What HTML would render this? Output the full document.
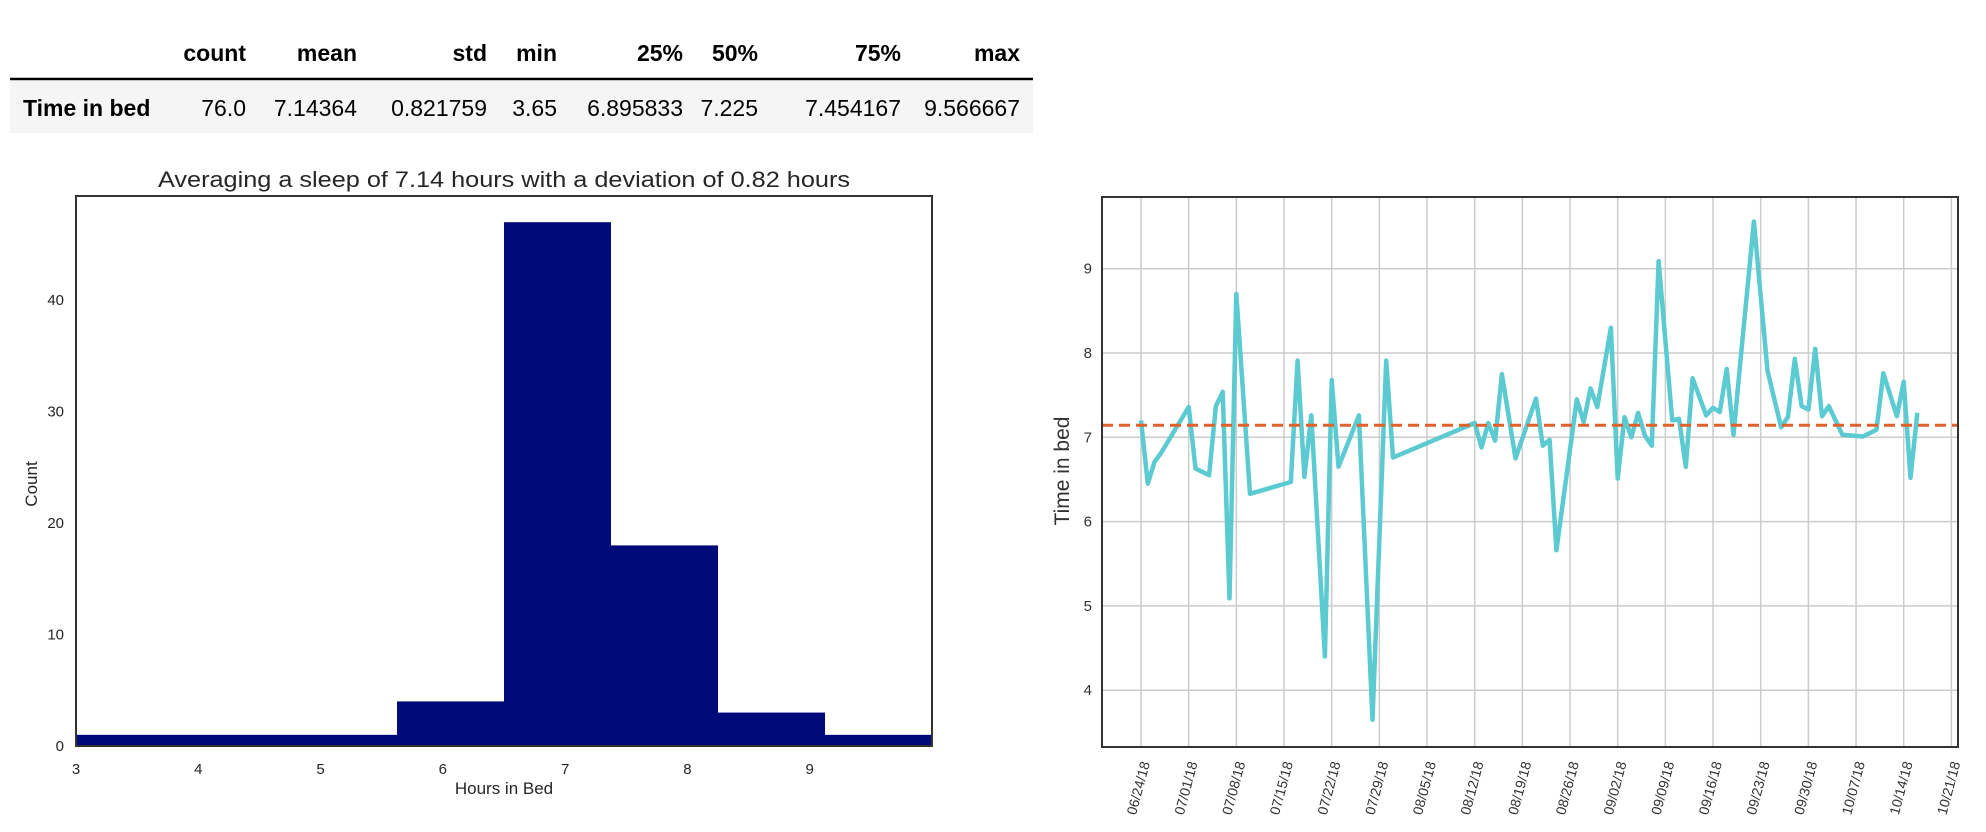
<!DOCTYPE html>
<html><head><meta charset="utf-8">
<style>
html,body{margin:0;padding:0;background:#fff;}
svg{display:block;font-family:"Liberation Sans",Arial,sans-serif;}
</style></head>
<body>
<svg id="root" width="1986" height="832" viewBox="0 0 1986 832">
  <g>
    <rect x="10" y="81" width="1023" height="52" fill="#f5f5f5"/>
    <line x1="10" y1="79" x2="1033" y2="79" stroke="#000" stroke-width="2.5"/>
    <g font-size="23" font-weight="bold" fill="#000" text-anchor="end">
      <text x="246" y="61">count</text>
      <text x="357" y="61">mean</text>
      <text x="487" y="61">std</text>
      <text x="557" y="61">min</text>
      <text x="683" y="61">25%</text>
      <text x="758" y="61">50%</text>
      <text x="901" y="61">75%</text>
      <text x="1020" y="61">max</text>
    </g>
    <text x="23" y="116" font-size="23" font-weight="bold">Time in bed</text>
    <g font-size="23" fill="#000" text-anchor="end">
      <text x="246" y="116">76.0</text>
      <text x="357" y="116">7.14364</text>
      <text x="487" y="116">0.821759</text>
      <text x="557" y="116">3.65</text>
      <text x="683" y="116">6.895833</text>
      <text x="758" y="116">7.225</text>
      <text x="901" y="116">7.454167</text>
      <text x="1020" y="116">9.566667</text>
    </g>
  </g>
  <g id="hist">
    <text x="504" y="187" font-size="22" fill="#262626" text-anchor="middle" textLength="692" lengthAdjust="spacingAndGlyphs">Averaging a sleep of 7.14 hours with a deviation of 0.82 hours</text>
  </g>
  <g id="line"></g>
</svg>
<script>
const NS = "http://www.w3.org/2000/svg";
// Histogram data
const binEdges = [3, 3.875, 4.75, 5.625, 6.5, 7.375, 8.25, 9.125, 10];
const binCounts = [1, 1, 1, 4, 47, 18, 3, 1];
const histXTicks = [3, 4, 5, 6, 7, 8, 9];
const histYTicks = [0, 10, 20, 30, 40];
// Line chart data
const sleepDates = ["2018-06-24","2018-06-25","2018-06-26","2018-06-27","2018-07-01","2018-07-02","2018-07-04","2018-07-05","2018-07-06","2018-07-07","2018-07-08","2018-07-10","2018-07-16","2018-07-17","2018-07-18","2018-07-19","2018-07-21","2018-07-22","2018-07-23","2018-07-26","2018-07-28","2018-07-30","2018-07-31","2018-08-12","2018-08-13","2018-08-14","2018-08-15","2018-08-16","2018-08-18","2018-08-21","2018-08-22","2018-08-23","2018-08-24","2018-08-27","2018-08-28","2018-08-29","2018-08-30","2018-09-01","2018-09-02","2018-09-03","2018-09-04","2018-09-05","2018-09-06","2018-09-07","2018-09-08","2018-09-10","2018-09-11","2018-09-12","2018-09-13","2018-09-15","2018-09-16","2018-09-17","2018-09-18","2018-09-19","2018-09-20","2018-09-22","2018-09-24","2018-09-26","2018-09-27","2018-09-28","2018-09-29","2018-09-30","2018-10-01","2018-10-02","2018-10-03","2018-10-05","2018-10-08","2018-10-10","2018-10-11","2018-10-13","2018-10-14","2018-10-15","2018-10-16"];
const sleepHours = [7.20,6.45,6.71,6.82,7.36,6.63,6.55,7.37,7.54,5.09,8.70,6.33,6.47,7.91,6.53,7.26,4.40,7.68,6.65,7.26,3.65,7.91,6.76,7.17,6.88,7.17,6.96,7.75,6.75,7.46,6.90,6.97,5.66,7.45,7.18,7.58,7.36,8.30,6.51,7.24,7.00,7.29,7.02,6.90,9.09,7.20,7.22,6.65,7.70,7.26,7.35,7.30,7.81,7.03,7.89,9.56,7.79,7.12,7.24,7.93,7.37,7.33,8.05,7.25,7.37,7.03,7.01,7.09,7.76,7.25,7.66,6.52,7.29];
const meanHours = 7.14364;
const lineYTicks = [4, 5, 6, 7, 8, 9];
const dateTickLabels = ["06/24/18","07/01/18","07/08/18","07/15/18","07/22/18","07/29/18","08/05/18","08/12/18","08/19/18","08/26/18","09/02/18","09/09/18","09/16/18","09/23/18","09/30/18","10/07/18","10/14/18","10/21/18"];

function mk(tag, attrs, parent){
  const e = document.createElementNS(NS, tag);
  for (const k in attrs) e.setAttribute(k, attrs[k]);
  parent.appendChild(e);
  return e;
}

// ---- Histogram ----
const H = {l:76, r:932, t:196, b:746, x0:3, x1:10, y0:0, y1:49.35};
const hx = v => H.l + (v - H.x0) / (H.x1 - H.x0) * (H.r - H.l);
const hy = v => H.b - (v - H.y0) / (H.y1 - H.y0) * (H.b - H.t);
const hg = document.getElementById('hist');
binCounts.forEach((c, i) => {
  const r = mk('rect', {x: hx(binEdges[i]), y: hy(c), width: hx(binEdges[i+1]) - hx(binEdges[i]), height: hy(0) - hy(c), fill: '#000a78'}, hg);
  
  
});
const hframe = mk('rect', {x: H.l, y: H.t, width: H.r - H.l, height: H.b - H.t, fill: 'none', stroke: '#333', 'stroke-width': 2}, hg);


histXTicks.forEach(v => {
  const t = mk('text', {x: hx(v), y: 774, 'font-size': 15, fill: '#262626', 'text-anchor': 'middle'}, hg);
  t.textContent = v;
  
  
});
histYTicks.forEach(v => {
  const t = mk('text', {x: 64, y: hy(v) + 5, 'font-size': 15, fill: '#262626', 'text-anchor': 'end'}, hg);
  t.textContent = v;
  
  
});
const hxl = mk('text', {x: 504, y: 794, 'font-size': 17, fill: '#262626', 'text-anchor': 'middle'}, hg);
hxl.textContent = 'Hours in Bed';


const hyl = mk('text', {x: 0, y: 0, 'font-size': 17, fill: '#262626', 'text-anchor': 'middle', transform: 'translate(37,484) rotate(-90)'}, hg);
hyl.textContent = 'Count';



// ---- Line chart ----
const L = {l:1102, r:1958, t:197, b:747};
const day0 = Date.UTC(2018, 5, 24);
const pxPerDay = 6.81;
const dayOf = s => { const p = s.split('-'); return (Date.UTC(+p[0], +p[1]-1, +p[2]) - day0) / 86400000; };
const lx = d => 1141 + d * pxPerDay;
const ly = v => 437.3 - (v - 7) * 84.3;
const lg = document.getElementById('line');
dateTickLabels.forEach((s, i) => {
  const x = lx(i * 7);
  const g = mk('line', {x1: x, y1: L.t, x2: x, y2: L.b, stroke: '#cccccc', 'stroke-width': 1.5}, lg);
  
  
  const t = mk('text', {x: 0, y: 0, 'font-size': 14, fill: '#333', 'text-anchor': 'end', transform: `translate(${x + 9},763) rotate(-75)`}, lg);
  t.textContent = s;
  
  
});
lineYTicks.forEach(v => {
  const g = mk('line', {x1: L.l, y1: ly(v), x2: L.r, y2: ly(v), stroke: '#cccccc', 'stroke-width': 1.5}, lg);
  
  
  const t = mk('text', {x: 1092, y: ly(v) + 5, 'font-size': 15, fill: '#333', 'text-anchor': 'end'}, lg);
  t.textContent = v;
  
  
});
const pts = sleepDates.map((d, i) => lx(dayOf(d)).toFixed(1) + ',' + ly(sleepHours[i]).toFixed(1)).join(' ');
const pl = mk('polyline', {points: pts, fill: 'none', stroke: '#5bcbd1', 'stroke-width': 4.5, 'stroke-linejoin': 'round'}, lg);


const ml = mk('line', {x1: L.l, y1: ly(meanHours), x2: L.r, y2: ly(meanHours), stroke: '#e0612b', 'stroke-width': 3, 'stroke-dasharray': '11,6'}, lg);


const lf = mk('rect', {x: L.l, y: L.t, width: L.r - L.l, height: L.b - L.t, fill: 'none', stroke: '#333', 'stroke-width': 2}, lg);


const lyl = mk('text', {x: 0, y: 0, 'font-size': 21, fill: '#333', 'text-anchor': 'middle', transform: 'translate(1069,471) rotate(-90)'}, lg);
lyl.textContent = 'Time in bed';


</script>
</body></html>
